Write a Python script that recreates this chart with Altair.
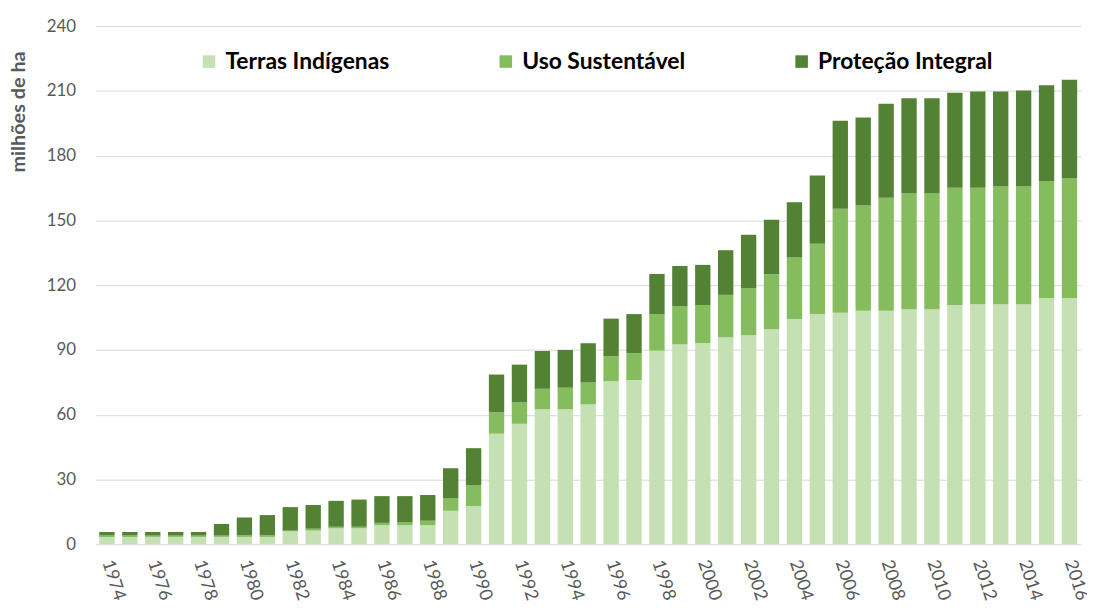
import altair as alt
import pandas as pd

years = list(range(1974, 2017))
series = ["Terras Indígenas", "Uso Sustentável", "Proteção Integral"]
colors = ["#C5E0B3", "#84BC5E", "#548235"]

terras_indigenas = [3.4, 3.4, 3.4, 3.4, 3.4, 3.4, 3.4, 3.4, 6.0, 6.3,
                    7.4, 7.4, 8.8, 8.8, 8.8, 15.5, 17.7, 51.2, 55.8, 62.6,
                    62.6, 64.8, 75.5, 76.0, 89.7, 92.6, 93.2, 95.8, 96.8, 99.6,
                    104.3, 106.6, 107.2, 108.2, 108.2, 108.8, 108.8, 110.8, 111.2, 111.2,
                    111.2, 114.0, 114.0]
uso_sustentavel = [0.6, 0.6, 0.6, 0.6, 0.6, 0.6, 0.8, 0.8, 0.3, 0.9,
                   0.7, 0.7, 1.1, 1.5, 2.1, 5.7, 9.7, 9.9, 9.9, 9.4,
                   9.9, 10.1, 11.6, 12.5, 16.9, 17.7, 17.6, 19.7, 21.8, 25.5,
                   28.5, 32.6, 48.2, 48.7, 52.3, 53.7, 53.7, 54.3, 53.9, 54.5,
                   54.5, 54.2, 55.4]
protecao_integral = [1.7, 1.7, 1.7, 1.7, 1.7, 5.4, 8.2, 9.3, 10.9, 11.0,
                     12.0, 12.6, 12.4, 12.0, 11.9, 14.0, 17.1, 17.5, 17.5, 17.5,
                     17.5, 18.2, 17.4, 18.1, 18.6, 18.6, 18.6, 20.7, 24.8, 25.2,
                     25.6, 31.6, 40.8, 40.8, 43.5, 44.1, 44.1, 44.0, 44.6, 44.0,
                     44.5, 44.4, 45.8]

x_tick_years = list(range(1974, 2017, 2))
y_ticks = [0, 30, 60, 90, 120, 150, 180, 210, 240]

rows = []
for i, y in enumerate(years):
    for k, (name, vals) in enumerate(zip(series, [terras_indigenas, uso_sustentavel, protecao_integral])):
        rows.append({"ano": y, "serie": name, "valor": vals[i], "ordem": k})
df = pd.DataFrame(rows)

chart = alt.Chart(df).mark_bar().encode(
    x=alt.X("ano:O", title=None,
            scale=alt.Scale(paddingInner=0.33, paddingOuter=0.17),
            axis=alt.Axis(values=x_tick_years, labelAngle=72, labelFont="Lato",
                          labelFontSize=18, labelColor="#595959", labelPadding=16,
                          ticks=False, tickSize=0, domain=False, grid=False)),
    y=alt.Y("valor:Q", title="milhões de ha", stack="zero",
            scale=alt.Scale(domain=[0, 240], nice=False),
            axis=alt.Axis(values=y_ticks, labelFont="Lato", labelFontSize=17,
                          labelColor="#595959", labelPadding=20, ticks=False,
                          domain=False, gridColor="#D9D9D9", gridWidth=1,
                          titleFont="Lato", titleFontSize=20, titleFontWeight="bold",
                          titleColor="#595959", titleX=-77, titleY=86,
                          titleBaseline="middle", titleAngle=270)),
    color=alt.Color("serie:N", title=None,
                    scale=alt.Scale(domain=series, range=colors),
                    legend=alt.Legend(orient="none", direction="horizontal",
                                      legendX=103, legendY=24, symbolType="square",
                                      symbolSize=160, symbolStrokeWidth=0,
                                      labelFont="Lato", labelFontSize=23,
                                      labelFontWeight="bold", labelColor="#000000",
                                      labelOffset=5, columnPadding=105,
                                      labelLimit=400)),
    order=alt.Order("ordem:Q", sort="ascending"),
).properties(
    width=993, height=522,
    autosize=alt.AutoSizeParams(type="none"),
    padding={"left": 88, "top": 16, "right": 6, "bottom": 62},
).configure_view(stroke=None)

chart.save("out.html", embed_options={"renderer": "svg", "actions": False})
